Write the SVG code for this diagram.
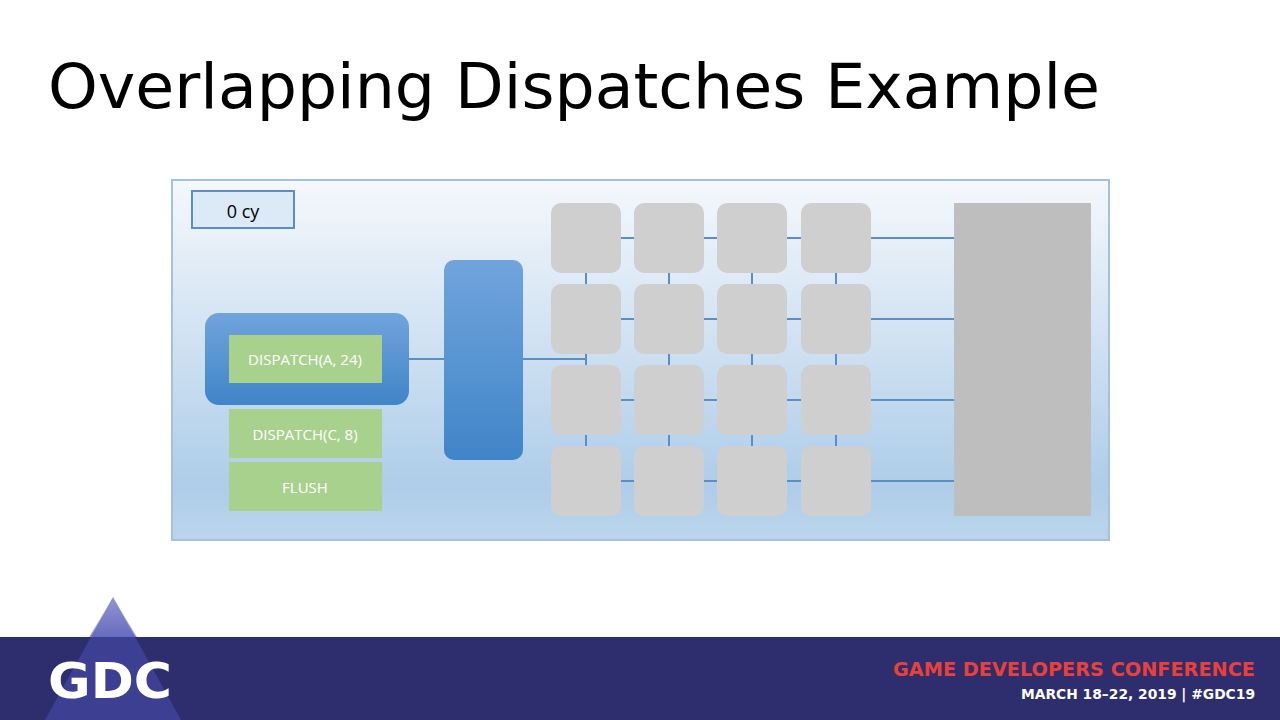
<svg xmlns="http://www.w3.org/2000/svg" width="1280" height="720" viewBox="0 0 1280 720">
<defs>
<linearGradient id="bg" x1="0" y1="0" x2="0" y2="1"><stop offset="0" stop-color="#f5f8fc"/><stop offset="0.85" stop-color="#aecde9"/><stop offset="1" stop-color="#bcd5ec"/></linearGradient>
<linearGradient id="blue" x1="0" y1="0" x2="0" y2="1"><stop offset="0" stop-color="#70a4dc"/><stop offset="1" stop-color="#4085c8"/></linearGradient>
<linearGradient id="tri" x1="0" y1="0" x2="0" y2="1"><stop offset="0" stop-color="#e8eaf6"/><stop offset="0.5" stop-color="#5a5fc0"/><stop offset="1" stop-color="#4a4fb0"/></linearGradient>
<style>
.cell{fill:#d0cfd0}
.ln{stroke:#5b8fc4;stroke-width:2;fill:none}
.g{fill:#a9d18e}
.wt{font-family:"Open Sans","Liberation Sans",sans-serif;font-size:15px;fill:#ffffff;text-anchor:middle}
</style>
</defs>
<rect width="1280" height="720" fill="#fff"/>
<text x="48" y="108" font-family="DejaVu Sans, sans-serif" font-size="62" fill="#000" textLength="1052" lengthAdjust="spacingAndGlyphs">Overlapping Dispatches Example</text>
<rect x="172" y="180" width="937" height="360" fill="url(#bg)" stroke="#a4c2de" stroke-width="2"/>
<g id="connectors">
<path class="ln" d="M408 359H444M523 359H586"/>
<path class="ln" d="M586 238H954M586 319H954M586 400H954M586 481H954"/>
<path class="ln" d="M586 238V481M669 238V481M752 238V481M836 238V481"/>
</g>
<g id="cy"><rect x="192" y="191" width="102" height="37" fill="#dce9f6" stroke="#5b8fc4" stroke-width="2"/><text x="243" y="218" font-family="Open Sans, Liberation Sans, sans-serif" font-size="18" text-anchor="middle" fill="#000">0 cy</text></g>
<g id="queue"><rect x="205" y="313" width="204" height="92" rx="14" fill="url(#blue)"/></g>
<g id="dA"><rect x="229" y="335" width="153" height="48" class="g"/><text x="305" y="365" class="wt">DISPATCH(A, 24)</text></g>
<g id="dC"><rect x="229" y="409" width="153" height="49" class="g"/><text x="305" y="440" class="wt">DISPATCH(C, 8)</text></g>
<g id="flush"><rect x="229" y="462" width="153" height="49" class="g"/><text x="305" y="493" class="wt">FLUSH</text></g>
<g id="sched"><rect x="444" y="260" width="79" height="200" rx="10" fill="url(#blue)"/></g>
<g id="grid">
<rect class="cell" x="551" y="203" width="70" height="70" rx="10"/><rect class="cell" x="634" y="203" width="70" height="70" rx="10"/><rect class="cell" x="717" y="203" width="70" height="70" rx="10"/><rect class="cell" x="801" y="203" width="70" height="70" rx="10"/>
<rect class="cell" x="551" y="284" width="70" height="70" rx="10"/><rect class="cell" x="634" y="284" width="70" height="70" rx="10"/><rect class="cell" x="717" y="284" width="70" height="70" rx="10"/><rect class="cell" x="801" y="284" width="70" height="70" rx="10"/>
<rect class="cell" x="551" y="365" width="70" height="70" rx="10"/><rect class="cell" x="634" y="365" width="70" height="70" rx="10"/><rect class="cell" x="717" y="365" width="70" height="70" rx="10"/><rect class="cell" x="801" y="365" width="70" height="70" rx="10"/>
<rect class="cell" x="551" y="446" width="70" height="70" rx="10"/><rect class="cell" x="634" y="446" width="70" height="70" rx="10"/><rect class="cell" x="717" y="446" width="70" height="70" rx="10"/><rect class="cell" x="801" y="446" width="70" height="70" rx="10"/>
</g>
<g id="mem"><rect x="954" y="203" width="137" height="313" fill="#bebebe"/></g>
<polygon points="113,597 40,720 186,720" fill="url(#tri)"/>
<rect x="0" y="637" width="1280" height="83" fill="#2e2d6e"/>
<polygon points="113,597 45,720 181,720" fill="#4a4fb0" opacity="0.55"/>
<text x="48" y="698" font-family="DejaVu Sans, sans-serif" font-weight="bold" font-size="50" fill="#fff" textLength="124" lengthAdjust="spacingAndGlyphs">GDC</text>
<text x="1255" y="676" font-family="DejaVu Sans, sans-serif" font-weight="bold" font-size="19" fill="#e8413c" text-anchor="end" textLength="362" lengthAdjust="spacingAndGlyphs">GAME DEVELOPERS CONFERENCE</text>
<text x="1255" y="699" font-family="DejaVu Sans, sans-serif" font-weight="bold" font-size="14" fill="#fff" text-anchor="end" textLength="234" lengthAdjust="spacingAndGlyphs">MARCH 18–22, 2019  |  #GDC19</text>
</svg>
